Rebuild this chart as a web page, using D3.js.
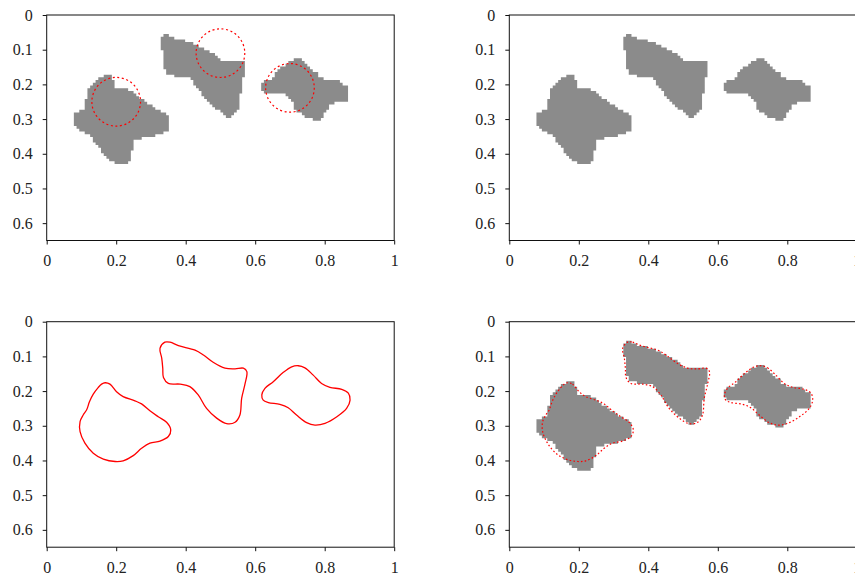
<!DOCTYPE html>
<html>
<head>
<meta charset="utf-8">
<script src="https://cdn.jsdelivr.net/npm/d3@7"></script>
<style>
  body { margin: 0; background: #fff; }
  svg { display: block; }
</style>
</head>
<body>
<svg id="chart"></svg>
<script>
const width = 855;
const height = 577;

// axes
const xDomain = [0, 1];
const yDomain = [0, 0.65];
const xTicks = [0, 0.2, 0.4, 0.6, 0.8, 1];
const yTicks = [0, 0.1, 0.2, 0.3, 0.4, 0.5, 0.6];

// gray objects in the image (outline of each blob, x / y in image units)
const grayLeft = [[0.162,0.174],[0.191,0.174],[0.192,0.200],[0.199,0.212],[0.237,0.215],[0.275,0.244],[0.304,0.263],[0.333,0.282],[0.350,0.287],[0.352,0.292],[0.353,0.335],[0.333,0.340],[0.324,0.345],[0.275,0.354],[0.251,0.364],[0.247,0.378],[0.245,0.412],[0.232,0.427],[0.223,0.433],[0.203,0.433],[0.194,0.424],[0.170,0.412],[0.158,0.398],[0.151,0.383],[0.136,0.369],[0.127,0.350],[0.103,0.335],[0.083,0.326],[0.079,0.306],[0.079,0.287],[0.088,0.278],[0.103,0.276],[0.110,0.258],[0.114,0.234],[0.120,0.212],[0.127,0.206],[0.136,0.196],[0.146,0.186],[0.156,0.180]];
const grayMid = [[0.334,0.059],[0.346,0.055],[0.356,0.059],[0.370,0.068],[0.399,0.074],[0.418,0.081],[0.433,0.086],[0.457,0.100],[0.481,0.110],[0.495,0.124],[0.505,0.135],[0.529,0.136],[0.567,0.133],[0.572,0.138],[0.572,0.172],[0.565,0.182],[0.562,0.225],[0.555,0.234],[0.555,0.268],[0.544,0.282],[0.529,0.297],[0.519,0.295],[0.509,0.282],[0.485,0.273],[0.474,0.263],[0.457,0.244],[0.446,0.225],[0.433,0.210],[0.418,0.191],[0.404,0.177],[0.385,0.177],[0.356,0.175],[0.344,0.168],[0.337,0.148],[0.337,0.110],[0.327,0.095],[0.327,0.086],[0.332,0.066]];
const grayRight = [[0.725,0.123],[0.735,0.126],[0.744,0.135],[0.759,0.155],[0.778,0.166],[0.788,0.182],[0.807,0.185],[0.831,0.187],[0.845,0.193],[0.855,0.200],[0.867,0.201],[0.869,0.241],[0.860,0.251],[0.831,0.253],[0.817,0.260],[0.807,0.275],[0.793,0.294],[0.783,0.304],[0.773,0.306],[0.759,0.299],[0.744,0.294],[0.735,0.284],[0.716,0.274],[0.706,0.251],[0.692,0.231],[0.682,0.227],[0.630,0.227],[0.620,0.220],[0.620,0.198],[0.630,0.188],[0.644,0.185],[0.654,0.174],[0.661,0.159],[0.673,0.150],[0.687,0.143],[0.701,0.135],[0.713,0.126]];

// final level-set contour
const contourLeft = [[0.168,0.176],[0.182,0.180],[0.201,0.202],[0.220,0.216],[0.254,0.228],[0.273,0.237],[0.297,0.257],[0.321,0.274],[0.345,0.290],[0.357,0.312],[0.350,0.331],[0.326,0.344],[0.297,0.350],[0.273,0.365],[0.249,0.386],[0.220,0.401],[0.197,0.403],[0.163,0.396],[0.134,0.379],[0.110,0.350],[0.096,0.317],[0.096,0.288],[0.105,0.269],[0.115,0.254],[0.123,0.231],[0.134,0.209],[0.148,0.190],[0.158,0.180]];
const contourMid = [[0.340,0.059],[0.355,0.059],[0.379,0.069],[0.427,0.082],[0.451,0.096],[0.479,0.117],[0.513,0.134],[0.542,0.136],[0.566,0.134],[0.576,0.144],[0.571,0.178],[0.561,0.221],[0.556,0.269],[0.542,0.290],[0.518,0.294],[0.489,0.278],[0.460,0.250],[0.436,0.211],[0.412,0.187],[0.384,0.180],[0.350,0.178],[0.336,0.161],[0.334,0.134],[0.331,0.105],[0.326,0.077]];
const contourRight = [[0.724,0.127],[0.743,0.133],[0.767,0.154],[0.791,0.178],[0.815,0.189],[0.849,0.195],[0.868,0.206],[0.873,0.226],[0.863,0.250],[0.835,0.274],[0.801,0.293],[0.772,0.298],[0.748,0.291],[0.719,0.269],[0.695,0.248],[0.671,0.238],[0.638,0.233],[0.623,0.226],[0.619,0.211],[0.628,0.192],[0.652,0.173],[0.681,0.146],[0.705,0.130]];

// initial contour: three circles
const circleCenters = [[0.2, 0.25], [0.5, 0.11], [0.7, 0.21]];
const circleRadius = 0.07;

const grayBlobs = [grayLeft, grayMid, grayRight];
const contours = [contourLeft, contourMid, contourRight];

const plotWidth = 347.5;
const plotHeight = 225.5;
const pixelSize = 1 / 128; // image resolution of the gray objects
const tickFont = '"Liberation Serif", "DejaVu Serif", serif';

const panels = [
  { left: 46.7, top: 15, gray: true, circles: true },
  { left: 509.3, top: 15, gray: true },
  { left: 46.7, top: 321.7, contour: "solid" },
  { left: 509.3, top: 321.7, gray: true, contour: "dotted" },
];

const svg = d3.select("#chart")
  .attr("width", width)
  .attr("height", height)
  .attr("viewBox", [0, 0, width, height]);

svg.append("defs").append("clipPath")
  .attr("id", "plotClip")
  .append("rect")
  .attr("width", plotWidth)
  .attr("height", plotHeight);

// rasterize the blobs on the image grid, rows merged into runs
function grayRuns() {
  const runs = [];
  const nx = Math.round((xDomain[1] - xDomain[0]) / pixelSize);
  const ny = Math.ceil((yDomain[1] - yDomain[0]) / pixelSize);
  for (let j = 0; j < ny; j++) {
    let start = null;
    for (let i = 0; i <= nx; i++) {
      const px = (i + 0.5) * pixelSize;
      const py = (j + 0.5) * pixelSize;
      const inside = i < nx && grayBlobs.some((b) => d3.polygonContains(b, [px, py]));
      if (inside && start === null) start = i;
      if (!inside && start !== null) {
        runs.push({ x0: start * pixelSize, x1: i * pixelSize, y0: j * pixelSize, y1: (j + 1) * pixelSize });
        start = null;
      }
    }
  }
  return runs;
}

const runs = grayRuns();

function drawPanel(p) {
  const x = d3.scaleLinear().domain(xDomain).range([0, plotWidth]);
  const y = d3.scaleLinear().domain(yDomain).range([0, plotHeight]);

  const g = svg.append("g").attr("transform", `translate(${p.left}, ${p.top})`);
  const plot = g.append("g").attr("clip-path", "url(#plotClip)");

  if (p.gray) {
    // one path for all pixel runs, so that no seams show between rows
    const path = d3.path();
    runs.forEach((d) => path.rect(x(d.x0), y(d.y0), x(d.x1) - x(d.x0), y(d.y1) - y(d.y0)));
    plot.append("path")
      .attr("d", path.toString())
      .attr("fill", "#8b8b8b");
  }

  if (p.circles) {
    plot.append("g")
      .selectAll("circle")
      .data(circleCenters)
      .join("circle")
      .attr("cx", (d) => x(d[0]))
      .attr("cy", (d) => y(d[1]))
      .attr("r", x(circleRadius) - x(0))
      .attr("fill", "none")
      .attr("stroke", "#ff0000")
      .attr("stroke-width", 1.2)
      .attr("stroke-dasharray", "2,2.6");
  }

  if (p.contour) {
    const line = d3.line()
      .x((d) => x(d[0]))
      .y((d) => y(d[1]))
      .curve(d3.curveCatmullRomClosed.alpha(0.5));
    plot.append("g")
      .selectAll("path")
      .data(contours)
      .join("path")
      .attr("d", line)
      .attr("fill", "none")
      .attr("stroke", "#ff0000")
      .attr("stroke-width", p.contour === "dotted" ? 1.2 : 1.3)
      .attr("stroke-dasharray", p.contour === "dotted" ? "1.6,2.2" : null);
  }

  // frame
  g.append("rect")
    .attr("width", plotWidth)
    .attr("height", plotHeight)
    .attr("fill", "none")
    .attr("stroke", "#111")
    .attr("stroke-width", 1);

  const xAxis = g.append("g")
    .attr("transform", `translate(0, ${plotHeight})`)
    .call(d3.axisBottom(x).tickValues(xTicks).tickSize(4).tickPadding(10).tickFormat(d3.format("")));
  const yAxis = g.append("g")
    .call(d3.axisLeft(y).tickValues(yTicks).tickSize(4).tickPadding(10).tickFormat(d3.format("")));

  [xAxis, yAxis].forEach((a) => {
    a.select(".domain").remove();
    a.selectAll(".tick line").attr("stroke", "#111");
    a.attr("font-family", tickFont).attr("font-size", 16);
    a.selectAll(".tick text").attr("fill", "#222");
  });
}

panels.forEach(drawPanel);
</script>
</body>
</html>
